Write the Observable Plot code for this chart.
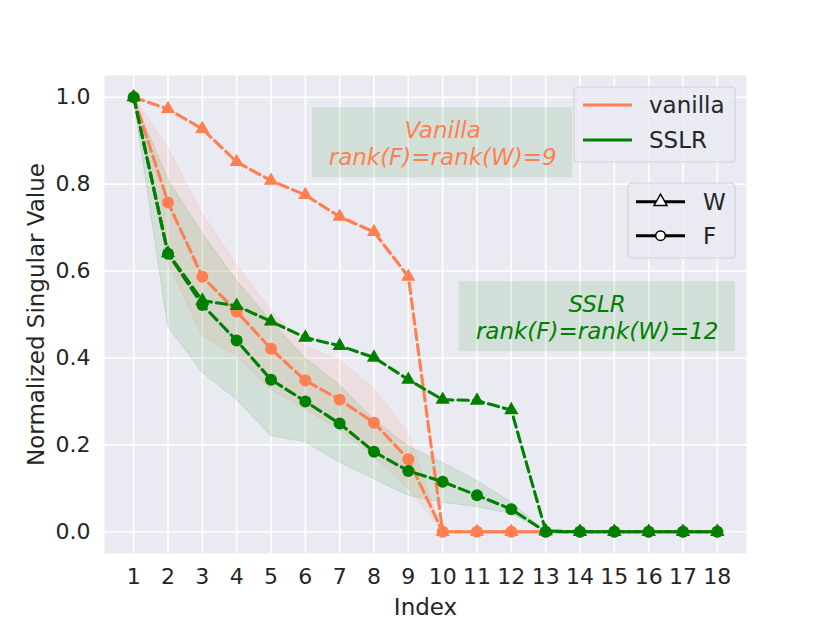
<!DOCTYPE html>
<html>
<head>
<meta charset="utf-8">
<script src="https://cdn.jsdelivr.net/npm/d3@7"></script>
<script src="https://cdn.jsdelivr.net/npm/@observablehq/plot@0.6"></script>
<style>
  html, body { margin: 0; padding: 0; background: white; }
  #chart { width: 830px; height: 623px; }
</style>
</head>
<body>
<div id="chart"></div>
<script>
// ---- data ----
const indexes = [1, 2, 3, 4, 5, 6, 7, 8, 9, 10, 11, 12, 13, 14, 15, 16, 17, 18];
const vanillaW = [1.0, 0.973, 0.927, 0.851, 0.808, 0.775, 0.725, 0.690, 0.587, 0, 0, 0, 0, 0, 0, 0, 0, 0];
const vanillaF = [1.0, 0.758, 0.587, 0.507, 0.421, 0.348, 0.304, 0.251, 0.167, 0, 0, 0, 0, 0, 0, 0, 0, 0];
const vanillaFLow = [1.0, 0.62, 0.45, 0.404, 0.327, 0.281, 0.235, 0.172, 0.100, 0, 0, 0, 0, 0, 0, 0, 0, 0];
const vanillaFHigh = [1.0, 0.885, 0.733, 0.615, 0.51, 0.427, 0.395, 0.330, 0.228, 0, 0, 0, 0, 0, 0, 0, 0, 0];
const sslrW = [1.0, 0.641, 0.532, 0.520, 0.484, 0.447, 0.428, 0.401, 0.350, 0.304, 0.302, 0.280, 0.002, 0, 0, 0, 0, 0];
const sslrF = [1.0, 0.640, 0.522, 0.440, 0.350, 0.300, 0.249, 0.184, 0.140, 0.115, 0.084, 0.052, 0, 0, 0, 0, 0, 0];
const sslrFLow = [1.0, 0.472, 0.366, 0.304, 0.220, 0.206, 0.159, 0.121, 0.083, 0.067, 0.057, 0.041, 0, 0, 0, 0, 0, 0];
const sslrFHigh = [1.0, 0.811, 0.687, 0.578, 0.485, 0.400, 0.337, 0.258, 0.197, 0.159, 0.117, 0.068, 0, 0, 0, 0, 0, 0];

const yTicks = [0, 0.2, 0.4, 0.6, 0.8, 1.0];
const methodNames = ["vanilla", "SSLR"];
const methodColors = ["coral", "green"];
const matrixNames = ["W", "F"];

const annX = [10, 14.5];
const annY = [0.895, 0.495];
const annText = ["Vanilla\nrank(F)=rank(W)=9", "SSLR\nrank(F)=rank(W)=12"];

// ---- build tables ----
const rows = (vals) => indexes.map((i, k) => ({i, v: vals[k]}));
const band = (lo, hi) => indexes.map((i, k) => ({i, lo: lo[k], hi: hi[k]}));
const ann = annX.map((x, k) => ({x, y: annY[k], text: annText[k], color: methodColors[k]}));

const dash = "10.5,5";
const lw = 3.1;
const rC = 6, rT = 5.3;

function seriesMarks(vals, color, symbol, r) {
  return [
    Plot.line(rows(vals), {x: "i", y: "v", stroke: color, strokeWidth: lw, strokeDasharray: dash}),
    Plot.dot(rows(vals), {x: "i", y: "v", fill: color, stroke: null, symbol, r})
  ];
}

const svg = Plot.plot({
  width: 830,
  height: 623,
  marginLeft: 104,
  marginRight: 84,
  marginTop: 75,
  marginBottom: 70,
  style: {fontFamily: "DejaVu Sans", fontSize: "22px", background: "white", color: "#262626", overflow: "visible"},
  x: {domain: [0.15, 18.85]},
  y: {domain: [-0.05, 1.05]},
  marks: [
    Plot.frame({fill: "#EAEAF2", stroke: null}),
    Plot.gridX(indexes, {stroke: "white", strokeOpacity: 1, strokeWidth: 1.6}),
    Plot.gridY(yTicks, {stroke: "white", strokeOpacity: 1, strokeWidth: 1.6}),
    Plot.axisX(indexes, {tickSize: 0, tickPadding: 15, fontSize: 22, label: null}),
    Plot.axisY(yTicks, {tickSize: 0, tickPadding: 14, fontSize: 22, label: null, tickFormat: d3.format(".1f")}),
    Plot.text(["Index"], {frameAnchor: "bottom", dy: 61, lineAnchor: "bottom", textAnchor: "middle", fontSize: 23, fill: "#262626"}),
    Plot.text(["Normalized Singular Value"], {frameAnchor: "left", dx: -61, rotate: -90, lineAnchor: "bottom", textAnchor: "middle", fontSize: 23, fill: "#262626"}),
    // bands
    Plot.areaY(band(vanillaFLow, vanillaFHigh), {x: "i", y1: "lo", y2: "hi", fill: "coral", fillOpacity: 0.11, stroke: "coral", strokeOpacity: 0.12}),
    Plot.areaY(band(sslrFLow, sslrFHigh), {x: "i", y1: "lo", y2: "hi", fill: "green", fillOpacity: 0.1, stroke: "green", strokeOpacity: 0.12}),
    // annotation boxes
    Plot.rect([ann[0]], {x1: "x", x2: "x", y1: "y", y2: "y", insetLeft: -130, insetRight: -130, insetTop: -35, insetBottom: -35, fill: "green", fillOpacity: 0.1}),
    Plot.rect([ann[1]], {x1: "x", x2: "x", y1: "y", y2: "y", insetLeft: -138, insetRight: -138, insetTop: -35, insetBottom: -35, fill: "green", fillOpacity: 0.1}),
    Plot.text(ann, {x: "x", y: "y", text: "text", fill: "color", fontSize: 23, fontStyle: "italic", lineHeight: 1.17, lineAnchor: "middle", textAnchor: "middle"}),
    // series
    ...seriesMarks(vanillaW, methodColors[0], "triangle", rT),
    ...seriesMarks(vanillaF, methodColors[0], "circle", rC),
    ...seriesMarks(sslrW, methodColors[1], "triangle", rT),
    ...seriesMarks(sslrF, methodColors[1], "circle", rC)
  ]
});

// ---- legends (drawn in pixel space, like matplotlib's axes-anchored legends) ----
const s = d3.select(svg);
function legendBox(x, y, w, h) {
  s.append("rect").attr("x", x).attr("y", y).attr("width", w).attr("height", h)
    .attr("rx", 4).attr("fill", "#EAEAF2").attr("fill-opacity", 0.8)
    .attr("stroke", "#CCCCCC").attr("stroke-opacity", 0.8).attr("stroke-width", 1.2);
}
function legendText(x, y, t) {
  s.append("text").attr("x", x).attr("y", y).attr("dy", "0.35em")
    .attr("text-anchor", "start").style("font-size", "23px")
    .attr("fill", "#262626").attr("font-family", "DejaVu Sans").text(t);
}
legendBox(574, 87, 161, 75);
methodNames.forEach((name, k) => {
  const y = 105 + k * 35;
  s.append("line").attr("x1", 583).attr("x2", 632).attr("y1", y).attr("y2", y)
    .attr("stroke", methodColors[k]).attr("stroke-width", lw);
  legendText(649, y, name);
});
legendBox(628, 183, 107, 75);
matrixNames.forEach((name, k) => {
  const y = 201.7 + k * 34;
  s.append("line").attr("x1", 636).attr("x2", 685).attr("y1", y).attr("y2", y)
    .attr("stroke", "black").attr("stroke-width", lw);
  if (name === "W") {
    s.append("path").attr("d", d3.symbol(d3.symbolTriangle, 4.8 * 4.8 * Math.PI)())
      .attr("transform", `translate(660.5,${y})`)
      .attr("fill", "white").attr("stroke", "black").attr("stroke-width", 1.5);
  } else {
    s.append("circle").attr("cx", 660.5).attr("cy", y).attr("r", 4.8)
      .attr("fill", "white").attr("stroke", "black").attr("stroke-width", 1.5);
  }
  legendText(703, y, name);
});

document.getElementById("chart").appendChild(svg);
</script>
</body>
</html>
